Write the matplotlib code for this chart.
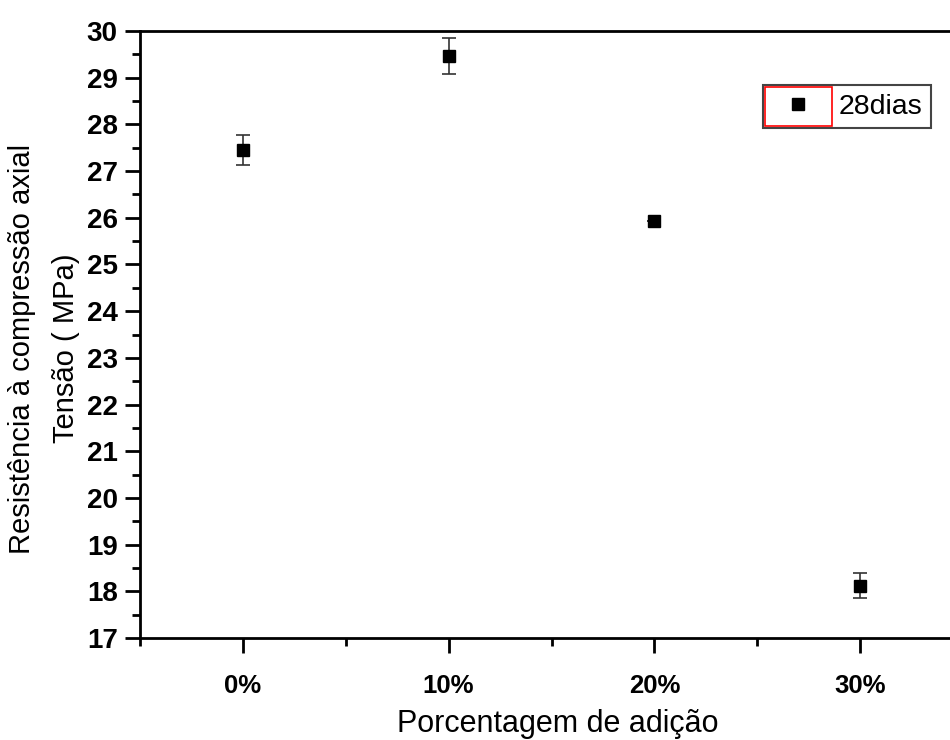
import matplotlib
matplotlib.use("Agg")
import matplotlib.pyplot as plt
from matplotlib.patches import Rectangle
from matplotlib.lines import Line2D
from matplotlib.ticker import MultipleLocator

categories = ["0%", "10%", "20%", "30%"]
values = [27.45, 29.46, 25.93, 18.12]
errors = [0.32, 0.38, 0.0, 0.27]
series_label = "28dias"

plt.rcParams['font.family'] = ['Liberation Sans', 'DejaVu Sans']

fig = plt.figure(figsize=(9.5, 7.4), dpi=100)
ax = fig.add_axes([140/950, 1-638/740, (963-140)/950, (638-31)/740])

xs = list(range(len(categories)))
ax.errorbar(xs, values, yerr=errors, fmt='s', color='black', ms=8.5,
            ecolor='#333333', elinewidth=1.2, capsize=5, capthick=1.2,
            zorder=3)

ax.set_xlim(-0.5, 3.5)
ax.set_ylim(17, 30)
ax.set_xticks(xs)
ax.set_xticklabels(categories)
ax.xaxis.set_minor_locator(MultipleLocator(0.5))
ax.yaxis.set_major_locator(MultipleLocator(1))
ax.yaxis.set_minor_locator(MultipleLocator(0.5))

for sp in ax.spines.values():
    sp.set_linewidth(2)
ax.tick_params(axis='both', which='major', direction='out', length=11, width=2,
               pad=5)
ax.tick_params(axis='both', which='minor', direction='out', length=6, width=2)
ax.tick_params(axis='y', which='major', labelsize=20)
ax.tick_params(axis='x', which='major', labelsize=18.5, pad=15)
for lab in ax.get_xticklabels() + ax.get_yticklabels():
    lab.set_fontweight('bold')

ax.set_xlabel("Porcentagem de adição", fontsize=22, labelpad=8)
ax.xaxis.label.set_x((557.5 - 140) / (963 - 140))
fig.text(22/950, 1-349/740, "Resistência à compressão axial", rotation=90,
         fontsize=21, ha='center', va='center')
fig.text(66/950, 1-348/740, "Tensão ( MPa)", rotation=90,
         fontsize=21, ha='center', va='center')

handle = Line2D([], [], marker='s', color='black', ms=8.5, linestyle='none')
leg = ax.legend([handle], [series_label], loc='upper left',
                bbox_to_anchor=(763/950, 1-85/740),
                bbox_transform=fig.transFigure, fontsize=20.5, frameon=True,
                fancybox=False, edgecolor='#444444', framealpha=1,
                borderpad=0.3, handlelength=1.85, handletextpad=0.5,
                borderaxespad=0)
leg.get_frame().set_linewidth(1.5)

fig.canvas.draw()
bb = leg.get_window_extent()
inv = fig.transFigure.inverted()
(x0, y0), (x1, y1) = inv.transform([[bb.x0, bb.y0], [bb.x1, bb.y1]])
w = (832 - 765) / 950
fig.patches.append(Rectangle((x0 + 0.002, y0 + 0.003), w, (y1 - y0) - 0.006,
                             transform=fig.transFigure, fill=False,
                             edgecolor='red', linewidth=1.2, zorder=10))

fig.savefig("out.png", dpi=100)
